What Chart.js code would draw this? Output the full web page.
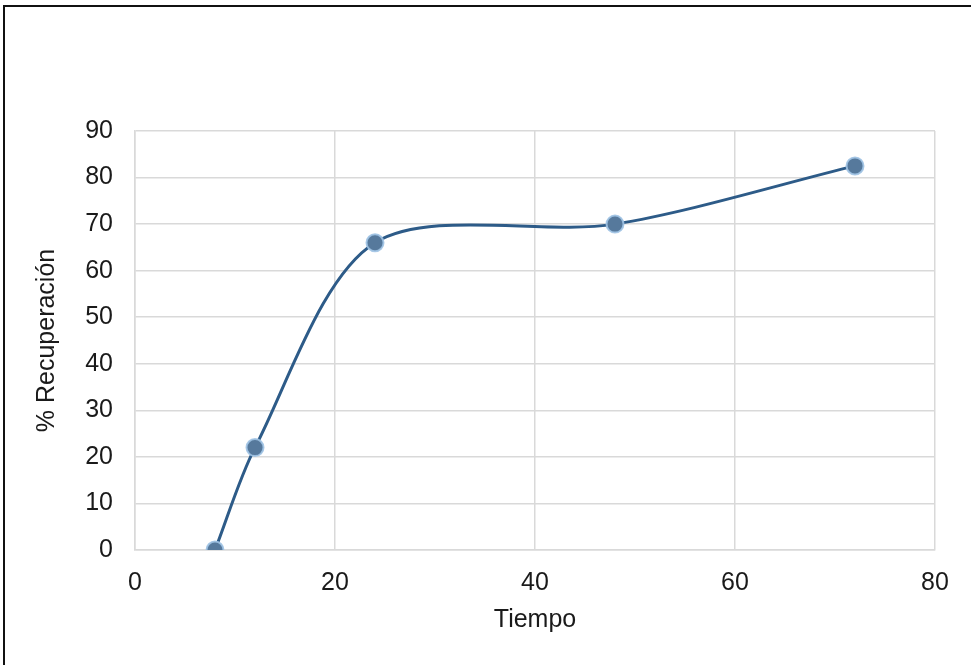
<!DOCTYPE html>
<html>
<head>
<meta charset="utf-8">
<script src="https://cdn.jsdelivr.net/npm/chart.js@4"></script>
<style>
  html, body { margin: 0; padding: 0; background: #fff; }
  #frame { position: absolute; left: 3px; top: 5px; width: 968px; height: 660px;
           border-top: 2px solid #111; border-left: 2px solid #111; }
  #wrap { position: absolute; left: 0; top: 0; width: 971px; height: 665px; }
</style>
</head>
<body>
<div id="frame"></div>
<div id="wrap"><canvas id="chart" width="971" height="665"></canvas></div>
<script>
"use strict";

var tiempo = [8, 12, 24, 48, 72];
var recuperacion = [0, 22, 66, 70, 82.5];
var x_ticks = [0, 20, 40, 60, 80];
var y_ticks = [0, 10, 20, 30, 40, 50, 60, 70, 80, 90];

var grid_color = "#d9d9d9";
var text_color = "#1a1a1a";
var font = { family: "'Liberation Sans', Arial, sans-serif", size: 25 };

function points() {
  var out = [];
  for (var i = 0; i < tiempo.length; i++) {
    out.push({ x: tiempo[i], y: recuperacion[i] });
  }
  return out;
}

new Chart(document.getElementById("chart"), {
  type: "scatter",
  data: {
    datasets: [{
      data: points(),
      showLine: true,
      tension: 0.3,
      borderColor: "#2d5b88",
      borderWidth: 3,
      pointRadius: 8.5,
      pointHoverRadius: 8.5,
      pointBackgroundColor: "#56799c",
      pointBorderColor: "rgba(160, 195, 228, 0.9)",
      pointBorderWidth: 2
    }]
  },
  options: {
    responsive: false,
    animation: false,
    layout: { padding: { top: 131, right: 36, bottom: 26, left: 28 } },
    plugins: { legend: { display: false }, tooltip: { enabled: false } },
    scales: {
      x: {
        type: "linear",
        min: 0,
        max: 80,
        afterBuildTicks: function(scale) {
          scale.ticks = x_ticks.map(function(v) { return { value: v }; });
        },
        afterFit: function(scale) { scale.height = 89; },
        grid: { color: grid_color, lineWidth: 1.5, drawTicks: false },
        border: { color: grid_color, width: 1.5 },
        ticks: { color: text_color, font: font, padding: 18, maxRotation: 0 },
        title: { display: true, text: "Tiempo", color: text_color, font: font, padding: 4 }
      },
      y: {
        min: 0,
        max: 90,
        afterBuildTicks: function(scale) {
          scale.ticks = y_ticks.map(function(v) { return { value: v }; });
        },
        afterFit: function(scale) { scale.width = 107; },
        grid: { color: grid_color, lineWidth: 1.5, drawTicks: false },
        border: { color: grid_color, width: 1.5 },
        ticks: { color: text_color, font: font, padding: 22 },
        title: { display: true, text: "% Recuperación", color: text_color, font: font, padding: 4 }
      }
    }
  }
});
</script>
</body>
</html>
